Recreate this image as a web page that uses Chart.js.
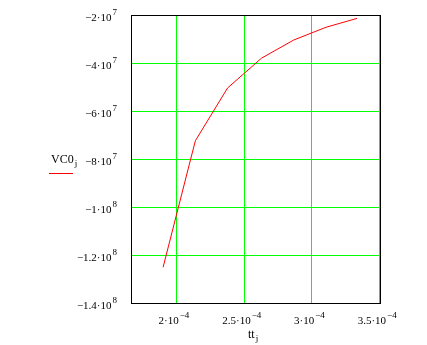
<!DOCTYPE html>
<html>
<head>
<meta charset="utf-8">
<script src="https://cdn.jsdelivr.net/npm/chart.js@4.4.0/dist/chart.umd.min.js"></script>
<style>
  html, body { margin: 0; padding: 0; background: #fff; }
  #wrap { width: 427px; height: 345px; }
</style>
</head>
<body>
<div id="wrap"><canvas id="chart" width="427" height="345"></canvas></div>
<script>
// tt_j values and the matching VC0_j values
const ttValues = [1.905e-4, 2.143e-4, 2.381e-4, 2.631e-4, 2.870e-4, 3.108e-4, 3.337e-4];
const vc0Values = [-1.251e8, -7.24e7, -5.04e7, -3.80e7, -3.04e7, -2.51e7, -2.14e7];

// tick values and how they are written (mantissa, exponent)
const xTicks = [2e-4, 2.5e-4, 3e-4, 3.5e-4];
const xTickLabels = [['2\u00b710', '\u22124'], ['2.5\u00b710', '\u22124'], ['3\u00b710', '\u22124'], ['3.5\u00b710', '\u22124']];
const yTicks = [-2e7, -4e7, -6e7, -8e7, -1e8, -1.2e8, -1.4e8];
const yTickLabels = [['\u22122\u00b710', '7'], ['\u22124\u00b710', '7'], ['\u22126\u00b710', '7'], ['\u22128\u00b710', '7'],
                     ['\u22121\u00b710', '8'], ['\u22121.2\u00b710', '8'], ['\u22121.4\u00b710', '8']];

const FONT = '"Liberation Serif", "DejaVu Serif", serif';

function labelWidth(ctx, base, exp) {
  ctx.font = '11px ' + FONT;
  const w1 = ctx.measureText(base).width;
  ctx.font = '9px ' + FONT;
  return w1 + 1 + ctx.measureText(exp).width;
}

function drawLabel(ctx, base, exp, x, y) {
  ctx.textBaseline = 'alphabetic';
  ctx.textAlign = 'left';
  ctx.font = '11px ' + FONT;
  ctx.fillText(base, x, y);
  const w1 = ctx.measureText(base).width;
  ctx.font = '9px ' + FONT;
  ctx.fillText(exp, x + w1 + 1, y - 6);
}

// text with a subscript, e.g. VC0 + j
function drawSub(ctx, main, sub, x, y, size) {
  ctx.textBaseline = 'alphabetic';
  ctx.textAlign = 'left';
  ctx.font = size + 'px ' + FONT;
  ctx.fillText(main, x, y);
  const w = ctx.measureText(main).width;
  ctx.font = (size - 3) + 'px ' + FONT;
  ctx.fillText(sub, x + w + 1, y + 3);
}

// green grid and black frame, placed with the chart's own scales
const mathcadGrid = {
  id: 'mathcadGrid',
  beforeDatasetsDraw(chart) {
    const ctx = chart.ctx;
    const area = chart.chartArea;
    const xs = chart.scales.x;
    const ys = chart.scales.y;
    const L = Math.round(area.left), R = Math.round(area.right);
    const T = Math.round(area.top), B = Math.round(area.bottom);
    ctx.save();
    ctx.fillStyle = '#00ff00';
    xTicks.forEach(v => {
      const px = Math.min(Math.round(xs.getPixelForValue(v)), R - 1);
      ctx.fillRect(px, T, 1, B - T);
    });
    yTicks.forEach(v => {
      const py = Math.round(ys.getPixelForValue(v));
      ctx.fillRect(L, py, R - L, 1);
    });
    ctx.fillStyle = '#000000';
    ctx.fillRect(L, T, R - L + 1, 1);
    ctx.fillRect(L, B, R - L + 1, 1);
    ctx.fillRect(L, T, 1, B - T + 1);
    ctx.fillRect(R, T, 1, B - T + 1);
    ctx.restore();
  }
};

const mathcadLabels = {
  id: 'mathcadLabels',
  afterDraw(chart) {
    const ctx = chart.ctx;
    const area = chart.chartArea;
    const xs = chart.scales.x;
    const ys = chart.scales.y;
    ctx.save();
    ctx.fillStyle = '#000';
    yTicks.forEach((v, i) => {
      const [base, exp] = yTickLabels[i];
      const w = labelWidth(ctx, base, exp);
      drawLabel(ctx, base, exp, 117 - w, ys.getPixelForValue(v) + 6);
    });
    xTicks.forEach((v, i) => {
      const [base, exp] = xTickLabels[i];
      const w = labelWidth(ctx, base, exp);
      drawLabel(ctx, base, exp, xs.getPixelForValue(v) - w / 2 - 2, area.bottom + 21);
    });

    // axis names
    drawSub(ctx, 'tt', 'j', 248, area.bottom + 35, 12);
    drawSub(ctx, 'VC0', 'j', 51, 163, 12);

    // legend line
    ctx.fillStyle = '#ff0000';
    ctx.fillRect(49, 173, 24, 1);
    ctx.restore();
  }
};

const hiddenAxis = {
  type: 'linear',
  ticks: { display: false },
  grid: { display: false, drawTicks: false },
  border: { display: false }
};

new Chart(document.getElementById('chart'), {
  type: 'line',
  data: {
    datasets: [{
      label: 'VC0',
      data: ttValues.map((t, i) => ({ x: t, y: vc0Values[i] })),
      borderColor: '#ff0000',
      borderWidth: 1,
      pointRadius: 0,
      tension: 0,
      fill: false
    }]
  },
  options: {
    responsive: false,
    animation: false,
    devicePixelRatio: 1,
    layout: { padding: { left: 131, right: 47, top: 15, bottom: 42 } },
    plugins: { legend: { display: false }, tooltip: { enabled: false } },
    scales: {
      x: { ...hiddenAxis, min: 1.668e-4, max: 3.506e-4 },
      y: { ...hiddenAxis, min: -1.4e8, max: -2e7 }
    }
  },
  plugins: [mathcadGrid, mathcadLabels]
});
</script>
</body>
</html>
